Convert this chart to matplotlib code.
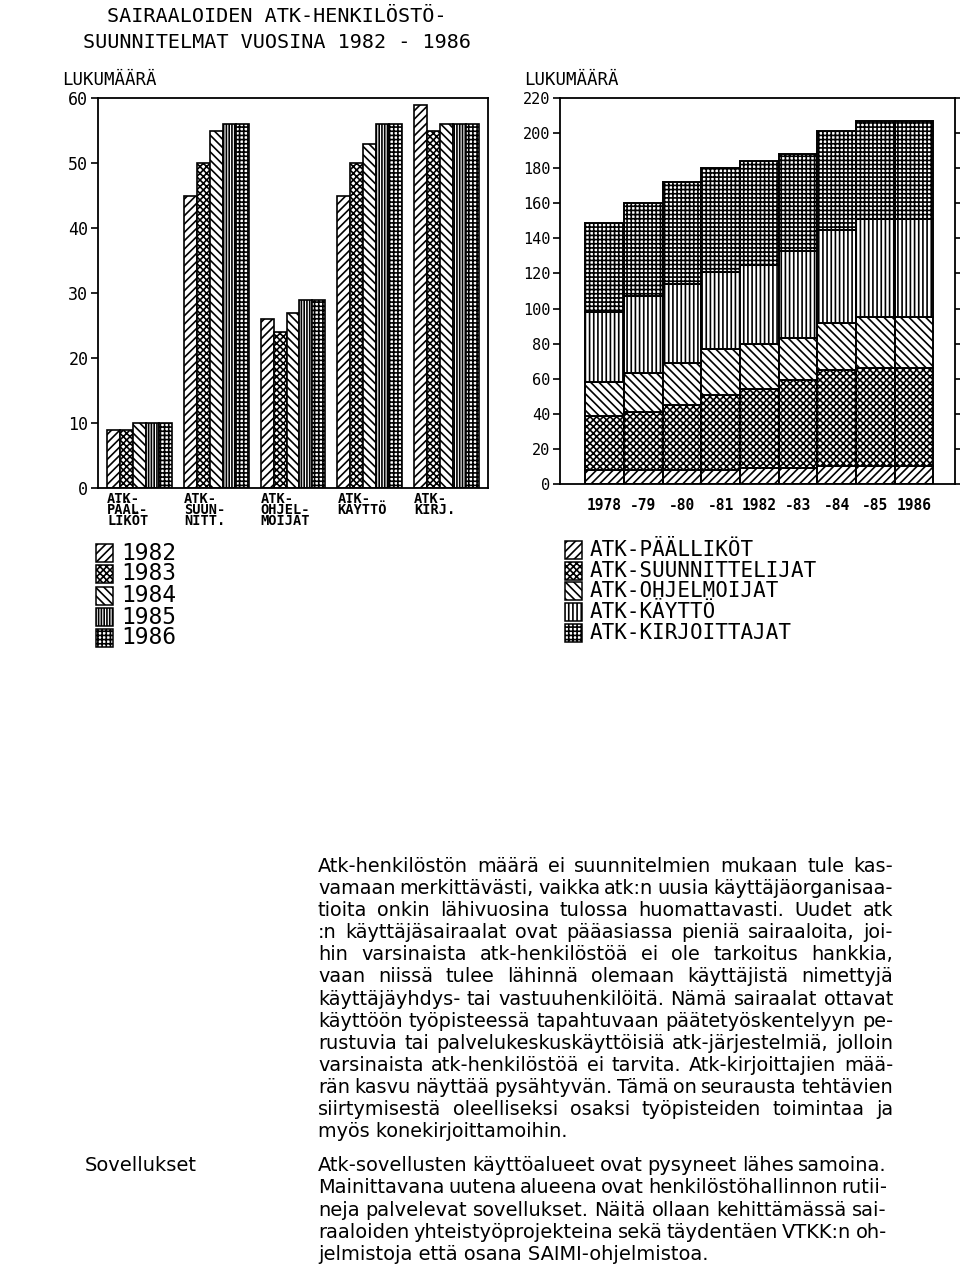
import matplotlib
matplotlib.use('Agg')
import matplotlib.pyplot as plt
from matplotlib.patches import Rectangle
from matplotlib.font_manager import FontProperties
import numpy as np

plt.rcParams['hatch.linewidth'] = 1.2
plt.rcParams['font.family'] = ['DejaVu Sans Mono', 'DejaVu Sans']

# ---------------- data ----------------
title_lines = ['SAIRAALOIDEN ATK-HENKILÖSTÖ-', 'SUUNNITELMAT VUOSINA 1982 - 1986']
y_label = 'LUKUMÄÄRÄ'

categories = ['ATK-\nPÄÄL-\nLIKÖT', 'ATK-\nSUUN-\nNITT.', 'ATK-\nOHJEL-\nMOIJAT',
              'ATK-\nKÄYTTÖ', 'ATK-\nKIRJ.']
years = ['1982', '1983', '1984', '1985', '1986']
v1982 = [9, 45, 26, 45, 59]
v1983 = [9, 50, 24, 50, 55]
v1984 = [10, 55, 27, 53, 56]
v1985 = [10, 56, 29, 56, 56]
v1986 = [10, 56, 29, 56, 56]
left_yticks = [0, 10, 20, 30, 40, 50, 60]

periods = ['1978', '-79', '-80', '-81', '1982', '-83', '-84', '-85', '1986']
groups = ['ATK-PÄÄLLIKÖT', 'ATK-SUUNNITTELIJAT', 'ATK-OHJELMOIJAT',
          'ATK-KÄYTTÖ', 'ATK-KIRJOITTAJAT']
paallikot = [8, 8, 8, 8, 9, 9, 10, 10, 10]
suunnittelijat = [31, 33, 37, 43, 45, 50, 55, 56, 56]
ohjelmoijat = [19, 22, 24, 26, 26, 24, 27, 29, 29]
kaytto = [40, 44, 45, 44, 45, 50, 53, 56, 56]
kirjoittajat = [51, 53, 58, 59, 59, 55, 56, 56, 56]
right_yticks = [0, 20, 40, 60, 80, 100, 120, 140, 160, 180, 200, 220]

para1 = [
    "Atk-henkilöstön määrä ei suunnitelmien mukaan tule kas-",
    "vamaan merkittävästi, vaikka atk:n uusia käyttäjäorganisaa-",
    "tioita onkin lähivuosina tulossa huomattavasti.  Uudet atk",
    ":n käyttäjäsairaalat ovat pääasiassa pieniä sairaaloita, joi-",
    "hin varsinaista atk-henkilöstöä ei ole tarkoitus hankkia,",
    "vaan niissä tulee lähinnä olemaan käyttäjistä nimettyjä",
    "käyttäjäyhdys- tai vastuuhenkilöitä. Nämä sairaalat ottavat",
    "käyttöön työpisteessä tapahtuvaan päätetyöskentelyyn pe-",
    "rustuvia tai palvelukeskuskäyttöisiä atk-järjestelmiä, jolloin",
    "varsinaista atk-henkilöstöä ei tarvita. Atk-kirjoittajien mää-",
    "rän kasvu näyttää pysähtyvän. Tämä on seurausta tehtävien",
    "siirtymisestä oleelliseksi osaksi työpisteiden toimintaa ja",
    "myös konekirjoittamoihin.",
]
side_head = "Sovellukset"
para2 = [
    "Atk-sovellusten käyttöalueet ovat pysyneet lähes samoina.",
    "Mainittavana uutena alueena ovat henkilöstöhallinnon rutii-",
    "neja palvelevat sovellukset. Näitä ollaan kehittämässä sai-",
    "raaloiden yhteistyöprojekteina sekä täydentäen VTKK:n oh-",
    "jelmistoja että osana SAIMI-ohjelmistoa.",
]

year_hatches = ['////', 'xxxxx', '\\\\\\\\', '||||||', '++++']
group_hatches = ['////', 'xxxxx', '\\\\\\\\', '||||', '++++']

# ---------------- figure ----------------
W, H = 960, 1266
fig = plt.figure(figsize=(W / 100, H / 100), dpi=100)
fig.patch.set_facecolor('white')


def fx(px):
    return px / W


def fy(py):
    return 1 - py / H


# title
fig.text(fx(107), fy(16), title_lines[0], fontsize=14.5, va='center', ha='left')
fig.text(fx(83), fy(42), title_lines[1], fontsize=14.5, va='center', ha='left')

# ---------------- left chart ----------------
ax1 = fig.add_axes([fx(98), fy(488), (488 - 98) / W, (488 - 98) / H])
x = np.arange(len(categories))
bw = 0.169
series = [v1982, v1983, v1984, v1985, v1986]
for i, (vals, h) in enumerate(zip(series, year_hatches)):
    ax1.bar(x + (i - 2) * bw, vals, bw, color='white', edgecolor='black',
            hatch=h, linewidth=1.2, label=years[i])
ax1.set_xlim(-0.54, len(categories) - 1 + 0.54)
ax1.set_ylim(0, 60)
ax1.set_yticks(left_yticks)
ax1.set_yticklabels([str(v) for v in left_yticks], fontsize=12)
ax1.set_xticks(x - 2.5 * bw)
ax1.set_xticklabels(categories, fontsize=9.8, fontweight='bold', ha='left',
                    linespacing=0.72)
ax1.tick_params(axis='x', length=0, pad=3)
ax1.tick_params(axis='y', direction='out', length=5, width=1.2, pad=2)
for s in ax1.spines.values():
    s.set_linewidth(1.3)
fig.text(fx(62), fy(80), y_label, fontsize=12.5, va='center', ha='left')

# ---------------- right chart ----------------
ax2 = fig.add_axes([fx(560), fy(484), (955 - 560) / W, (484 - 98) / H])
xp = np.arange(len(periods))
bottom = np.zeros(len(periods))
for vals, h, g in zip([paallikot, suunnittelijat, ohjelmoijat, kaytto, kirjoittajat],
                      group_hatches, groups):
    ax2.bar(xp, vals, 1.0, bottom=bottom, color='white', edgecolor='black',
            hatch=h, linewidth=1.4, label=g)
    bottom += np.array(vals)
ax2.set_xlim(-1.15, len(periods) - 1 + 1.06)
ax2.set_ylim(0, 220)
ax2.set_yticks(right_yticks)
ax2.set_yticklabels([str(v) for v in right_yticks], fontsize=11)
ax2.set_xticks(xp)
ax2.set_xticklabels(periods, fontsize=10.5, fontweight='bold')
ax2.tick_params(axis='x', length=0, pad=10)
ax2.tick_params(axis='y', direction='out', length=5, width=1.2, pad=2,
                right=True)
for s in ax2.spines.values():
    s.set_linewidth(1.3)
fig.text(fx(524), fy(80), y_label, fontsize=12.5, va='center', ha='left')

# ---------------- legends ----------------
left_leg_y = [553, 574, 596, 617, 638]
for yy, h, lab in zip(left_leg_y, year_hatches, years):
    r = Rectangle((fx(96), fy(yy + 9)), 17 / W, 18 / H, transform=fig.transFigure,
                  facecolor='white', edgecolor='black', hatch=h, linewidth=1.1)
    fig.add_artist(r)
    fig.text(fx(121), fy(yy), lab, fontsize=16.5, va='center', ha='left')

right_leg_y = [550, 571, 591, 612, 633]
for yy, h, lab in zip(right_leg_y, group_hatches, groups):
    r = Rectangle((fx(565), fy(yy + 9)), 17 / W, 18 / H, transform=fig.transFigure,
                  facecolor='white', edgecolor='black', hatch=h, linewidth=1.1)
    fig.add_artist(r)
    fig.text(fx(590), fy(yy), lab, fontsize=15, va='center', ha='left')

# ---------------- body text ----------------
renderer = fig.canvas.get_renderer()


def text_w(s, fp):
    w, h, d = renderer.get_text_width_height_descent(s, fp, ismath=False)
    return w


def fit_size(lines, family, weight, target, base=13.0, mingap=0.22):
    fp = FontProperties(family=family, size=base, weight=weight)
    em = base * 100 / 72
    mx = 0
    for l in lines[:-1]:
        words = l.split()
        wsum = sum(text_w(w, fp) for w in words) + (len(words) - 1) * mingap * em
        mx = max(mx, wsum)
    return base * target / mx


def draw_para(lines, x0, x1, y0, pitch, family, weight, size):
    fp = FontProperties(family=family, size=size, weight=weight)
    for k, line in enumerate(lines):
        yb = y0 + k * pitch
        words = line.split()
        last = (k == len(lines) - 1)
        if last or len(words) < 2:
            fig.text(fx(x0), fy(yb), line, fontproperties=fp, va='baseline', ha='left')
            continue
        ws = [text_w(w, fp) for w in words]
        gap = (x1 - x0 - sum(ws)) / (len(words) - 1)
        xx = x0
        for w, wd in zip(words, ws):
            fig.text(fx(xx), fy(yb), w, fontproperties=fp, va='baseline', ha='left')
            xx += wd + gap


body_family = ['DejaVu Sans']
s1 = fit_size(para1, body_family, 'normal', 893 - 318)
draw_para(para1, 318, 893, 872, 22.1, body_family, 'normal', s1)

s2 = fit_size(para2, body_family, 'normal', 887 - 318)
fig.text(fx(85), fy(1171), side_head,
         fontproperties=FontProperties(family=body_family, size=s2),
         va='baseline', ha='left')
draw_para(para2, 318, 887, 1171, 22.3, body_family, 'normal', s2)

fig.savefig('out.png', dpi=100, facecolor='white')
